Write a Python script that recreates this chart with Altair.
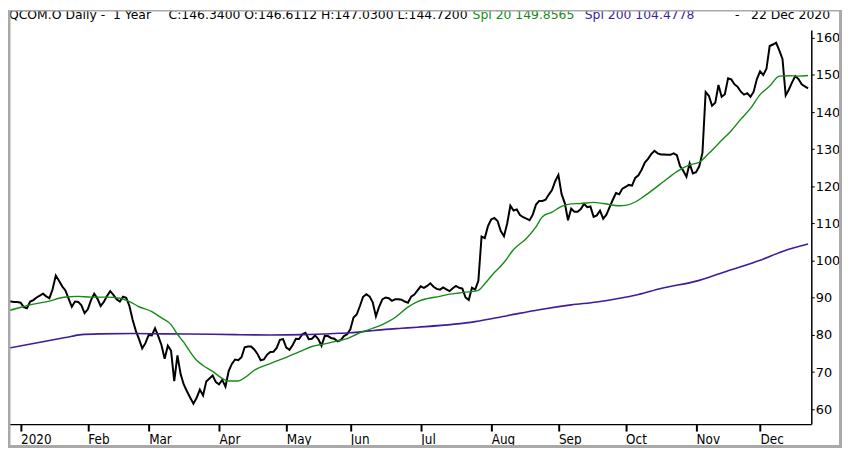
import altair as alt
import pandas as pd

# ---- data (trading-day index 0 = 23 Dec 2019) ----
price = [
    89.1, 89.0, 89.0, 89.0, 88.9, 88.9, 88.7, 87.5, 87.2, 89.0,
    89.4, 90.1, 90.6, 91.1, 90.4, 89.9, 92.3, 96.0, 94.6, 93.1,
    92.0, 89.8, 87.6, 89.0, 88.9, 88.0, 85.9, 86.9, 89.4, 91.1,
    89.8, 87.8, 88.9, 90.5, 91.8, 90.8, 89.6, 89.0, 90.3, 90.0,
    87.8, 84.1, 81.1, 78.9, 76.4, 77.8, 80.0, 79.9, 81.8, 79.7,
    77.3, 73.6, 77.1, 75.8, 67.6, 74.5, 69.4, 66.6, 64.8, 63.1,
    61.5, 63.1, 65.3, 63.7, 67.5, 68.3, 69.1, 67.3, 66.7, 67.9,
    66.1, 70.3, 72.2, 73.4, 73.2, 74.0, 76.7, 76.9, 76.9, 76.1,
    74.9, 73.2, 73.4, 74.7, 75.4, 75.5, 76.5, 78.7, 78.9, 76.6,
    76.0, 77.3, 79.0, 78.9, 80.2, 80.6, 78.9, 79.0, 79.9, 78.9,
    77.1, 79.7, 79.7, 79.2, 79.0, 78.3, 78.6, 79.7, 80.2, 81.5,
    84.7, 85.5, 87.8, 90.3, 91.0, 90.4, 88.8, 85.0, 87.6, 89.6,
    90.1, 89.9, 89.2, 89.6, 89.6, 89.5, 89.0, 88.7, 90.3, 90.9,
    92.0, 93.1, 92.7, 93.2, 93.9, 93.0, 92.4, 92.2, 92.8, 92.3,
    91.8, 92.6, 93.2, 92.7, 92.5, 90.1, 89.4, 92.7, 92.2, 94.6,
    106.5, 106.1, 109.3, 111.1, 111.5, 110.7, 108.0, 106.6, 110.0, 114.8,
    113.5, 113.8, 112.3, 111.7, 111.3, 110.9, 112.4, 115.1, 116.1, 116.1,
    116.4, 117.8, 119.0, 121.4, 123.1, 117.9, 115.5, 110.9, 114.0, 113.2,
    113.2, 113.9, 115.3, 114.4, 114.6, 111.8, 112.2, 113.5, 111.3, 112.4,
    114.4, 116.4, 118.2, 117.9, 119.4, 119.9, 120.4, 120.2, 122.3, 123.0,
    124.5, 126.4, 127.4, 128.7, 129.6, 128.9, 128.6, 128.6, 128.5, 128.5,
    128.9, 128.4, 125.5, 124.2, 122.6, 126.2, 123.5, 123.8, 125.4, 129.0,
    145.4, 144.4, 141.7, 142.5, 147.3, 144.1, 144.8, 149.1, 148.8, 147.5,
    146.8, 145.5, 144.7, 145.1, 144.1, 145.5, 148.9, 151.0, 150.0, 151.7,
    157.8, 158.2, 158.7, 156.6, 154.3, 144.5, 146.1, 148.0, 149.7, 148.9,
    147.5, 146.9, 146.4,
]

spl20_days = [0, 5, 10, 15, 18, 21, 24, 28, 33, 37, 40, 43, 47, 50, 53, 55, 57,
              59, 61, 63, 66, 69, 71, 74, 76, 79, 84, 89, 94, 97, 101, 105, 108,
              111, 115, 119, 123, 127, 130, 133, 137, 140, 143, 146, 149, 151,
              154, 157, 160, 164, 167, 169, 172, 175, 178, 181, 185, 188, 193,
              195, 198, 201, 204, 207, 211, 215, 218, 221, 225, 228, 231, 234,
              237, 240, 243, 246, 249, 252]
spl20_vals = [86.0, 87.2, 88.3, 89.1, 89.9, 90.3, 90.4, 90.2, 90.2, 89.9, 89.0,
              87.6, 86.3, 84.6, 82.8, 80.2, 78.0, 75.4, 73.2, 71.8, 70.2, 68.3,
              67.6, 67.6, 68.5, 70.5, 72.3, 74.0, 75.8, 76.9, 77.6, 78.4, 79.0,
              80.2, 81.5, 82.8, 84.7, 87.5, 89.0, 89.8, 90.4, 91.0, 91.3, 91.6,
              92.0, 93.8, 96.8, 99.5, 103.0, 106.0, 109.1, 111.8, 113.1, 114.6,
              115.3, 115.4, 115.7, 115.4, 114.8, 114.9, 115.8, 117.5, 119.4,
              121.4, 124.0, 125.8, 126.5, 128.9, 132.4, 135.0, 138.1, 141.0,
              144.7, 147.0, 149.7, 149.8, 149.7, 149.86]

spl200_days = [0, 10, 20, 25, 31, 41, 51, 66, 73, 84, 94, 104, 109, 115, 120,
               125, 130, 148, 158, 168, 178, 186, 199, 206, 218, 227, 237, 244, 252]
spl200_vals = [76.1, 77.7, 79.3, 80.1, 80.3, 80.4, 80.3, 80.2, 80.1, 80.0, 80.1,
               80.4, 80.6, 81.1, 81.5, 81.8, 82.1, 83.6, 85.2, 86.8, 88.1, 88.9,
               90.9, 92.5, 94.7, 97.3, 100.1, 102.5, 104.48]

month_days = [6, 27, 46, 68, 89, 109, 131, 153, 174, 195, 217, 237]
month_labels = ["2020", "Feb", "Mar", "Apr", "May", "Jun", "Jul", "Aug",
                "Sep", "Oct", "Nov", "Dec"]
price_ticks = [60, 70, 80, 90, 100, 110, 120, 130, 140, 150, 160]

header_title = "QCOM.O Daily -\u00a0\u00a01 Year"
header_ohlc = "C:146.3400 O:146.6112 H:147.0300 L:144.7200"
header_green = "Spl 20 149.8565"
header_purple = "Spl 200 104.4778"
header_dash = "-"
header_date = "22 Dec 2020"

BLACK = "#000000"
GREEN = "#168a16"
PURPLE = "#3f1c9c"
FRAME = "#a9a9a9"

df_price = pd.DataFrame({"day": list(range(len(price))), "value": price})
df_s20 = pd.DataFrame({"day": spl20_days, "value": spl20_vals})
df_s200 = pd.DataFrame({"day": spl200_days, "value": spl200_vals})

W, H = 811, 398
PT, PR, PB = 20, 31, 24
x_scale = alt.Scale(domain=[2.07, 253.0], nice=False, zero=False)
y_scale = alt.Scale(domain=[56.0, 162.13], nice=False, zero=False)

label_expr = ("[" + ",".join("'%s'" % m for m in month_labels) + "][indexof(["
              + ",".join(str(d) for d in month_days) + "], datum.value)]")

x_axis = alt.Axis(values=month_days, labelExpr=label_expr, orient="bottom",
                  grid=False, domainColor=BLACK, domainWidth=1.5,
                  tickColor=BLACK, tickSize=7, tickWidth=2,
                  labelAlign="left", labelPadding=2, labelFlush=False,
                  labelOverlap=False, labelFont="DejaVu Sans Condensed",
                  labelFontSize=13.5, labelColor=BLACK, title=None)
y_axis = alt.Axis(values=price_ticks, orient="right", grid=False,
                  domainColor=BLACK, domainWidth=1.5, tickColor=BLACK,
                  tickSize=3, tickWidth=1, labelPadding=1, labelFlush=False,
                  labelOverlap=False, labelFont="DejaVu Sans", labelFontSize=13,
                  labelColor=BLACK, labelBaseline="middle", title=None)

x_enc = alt.X("day:Q", scale=x_scale, axis=x_axis)
y_enc = alt.Y("value:Q", scale=y_scale, axis=y_axis)

line = alt.Chart(df_price).mark_line(color=BLACK, strokeWidth=2,
                                      clip=True).encode(x=x_enc, y=y_enc)
s200 = alt.Chart(df_s200).mark_line(color=PURPLE, strokeWidth=1.6,
                                     interpolate="monotone", clip=True).encode(
    x=x_enc, y=y_enc)
s20 = alt.Chart(df_s20).mark_line(color=GREEN, strokeWidth=1.4,
                                   interpolate="monotone", clip=True).encode(
    x=x_enc, y=y_enc)

HEAD_Y = -11
HFONT = "DejaVu Sans"
HSIZE = 12.5


def head(txt, xpos, color, align="left"):
    return alt.Chart().mark_text(align=align, baseline="alphabetic", font=HFONT,
                                 fontSize=HSIZE, color=color).encode(
        x=alt.value(xpos), y=alt.value(HEAD_Y), text=alt.value(txt))


heads = [
    head(header_title, 1, BLACK),
    head(header_ohlc, 464, BLACK, "right"),
    head(header_green, 469, GREEN),
    head(header_purple, 693, PURPLE, "right"),
    head(header_dash, 734, BLACK),
    head(header_date, 830, BLACK, "right"),
]

# grey picture frame
frame = [
    alt.Chart().mark_rect(color=FRAME).encode(x=alt.value(0), x2=alt.value(2.5),
                                              y=alt.value(-PT), y2=alt.value(H + PB)),
    alt.Chart().mark_rect(color=FRAME).encode(x=alt.value(W + PR - 3), x2=alt.value(W + PR),
                                              y=alt.value(-PT), y2=alt.value(H + PB)),
    alt.Chart().mark_rect(color=FRAME).encode(x=alt.value(0), x2=alt.value(W + PR),
                                              y=alt.value(-PT), y2=alt.value(-PT + 1.5)),
    alt.Chart().mark_rect(color=FRAME).encode(x=alt.value(0), x2=alt.value(W + PR),
                                              y=alt.value(H + PB - 3), y2=alt.value(H + PB)),
]

chart = alt.layer(line, s200, s20, *heads, *frame).properties(
    width=W, height=H,
    autosize=alt.AutoSizeParams(type="none"),
    padding={"left": 0, "top": PT, "right": PR, "bottom": PB},
    background="white",
).configure_view(stroke=None)

chart.save("out.html", embed_options={"renderer": "svg", "actions": False})
